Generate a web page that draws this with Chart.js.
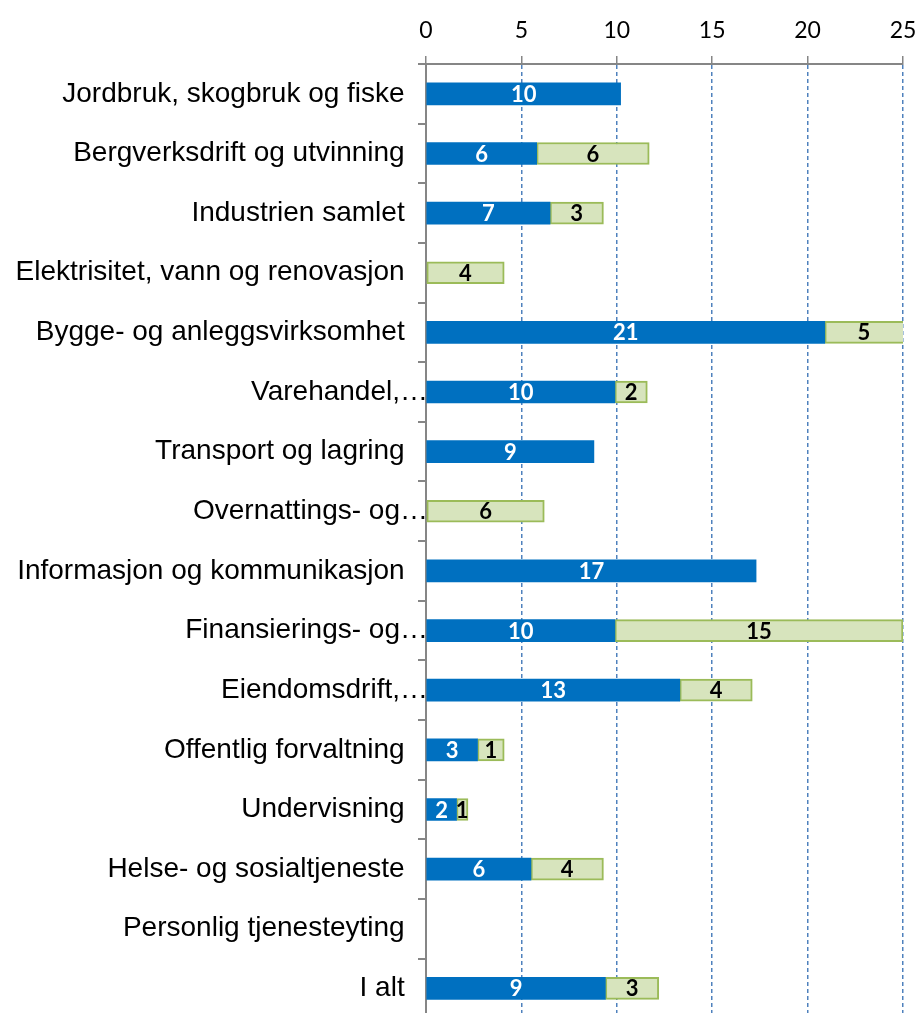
<!DOCTYPE html>
<html>
<head>
<meta charset="utf-8">
<script src="https://cdn.jsdelivr.net/npm/chart.js@4"></script>
<style>
    html, body { margin: 0; padding: 0; background: #fff; overflow: hidden; }
    #wrap { position: relative; width: 919px; height: 1025px; }
</style>
</head>
<body>
<div id="wrap"><canvas id="chart"></canvas></div>
<script>
// ==========================
// Data
// ==========================

const categories = [
    "Jordbruk, skogbruk og fiske",
    "Bergverksdrift og utvinning",
    "Industrien samlet",
    "Elektrisitet, vann og renovasjon",
    "Bygge- og anleggsvirksomhet",
    "Varehandel,…",
    "Transport og lagring",
    "Overnattings- og…",
    "Informasjon og kommunikasjon",
    "Finansierings- og…",
    "Eiendomsdrift,…",
    "Offentlig forvaltning",
    "Undervisning",
    "Helse- og sosialtjeneste",
    "Personlig tjenesteyting",
    "I alt"
];

const blueValues = [10.2, 5.8, 6.5, null, 20.9, 9.9, 8.8, null, 17.3, 9.9, 13.3, 2.7, 1.6, 5.5, null, 9.4];
const greenValues = [null, 5.9, 2.8, 4.1, 4.8, 1.7, null, 6.2, null, 15.1, 3.8, 1.4, 0.6, 3.8, null, 2.8];

const xTicks = [0, 5, 10, 15, 20, 25];

// ==========================
// Bar value labels
// ==========================

const barLabels = {
    id: "barLabels",
    afterDatasetsDraw(chart) {
        const ctx = chart.ctx;
        const area = chart.chartArea;
        ctx.save();
        ctx.font = "bold 22px Lato";
        ctx.textAlign = "center";
        ctx.textBaseline = "middle";
        chart.data.datasets.forEach((ds, i) => {
            const meta = chart.getDatasetMeta(i);
            meta.data.forEach((bar, j) => {
                const v = ds.data[j];
                if (v === null || v === undefined) return;
                const p = bar.getProps(["x", "y", "base"], true);
                const left = Math.max(Math.min(p.x, p.base), area.left);
                const right = Math.min(Math.max(p.x, p.base), area.right);
                ctx.fillStyle = i === 0 ? "#ffffff" : "#000000";
                ctx.fillText(String(Math.round(v)), (left + right) / 2, p.y + 1);
            });
        });
        ctx.restore();
    }
};

// ==========================
// Chart
// ==========================

Chart.defaults.font.family = "'Liberation Sans', Arial, sans-serif";
Chart.defaults.color = "#000";

new Chart(document.getElementById("chart"), {
    type: "bar",
    data: {
        labels: categories,
        datasets: [
            {
                label: "A",
                data: blueValues,
                backgroundColor: "#0070C0",
                borderWidth: 0,
                barThickness: 22
            },
            {
                label: "B",
                data: greenValues,
                backgroundColor: "#D7E4BD",
                borderColor: "#9BBB59",
                borderWidth: 2,
                borderSkipped: false,
                barThickness: 22
            }
        ]
    },
    options: {
        indexAxis: "y",
        responsive: true,
        maintainAspectRatio: false,
        animation: false,
        layout: { padding: { top: 0, right: 0, bottom: 0, left: 0 } },
        plugins: {
            legend: { display: false },
            tooltip: { enabled: false }
        },
        scales: {
            x: {
                position: "top",
                stacked: true,
                min: 0,
                max: 25,
                afterBuildTicks: scale => {
                    scale.ticks = xTicks.map(v => ({ value: v }));
                },
                afterFit: scale => {
                    scale.height = 64;
                    scale.paddingRight = 16;
                },
                ticks: {
                    font: { family: "Lato", size: 23 },
                    color: "#000",
                    padding: 12
                },
                grid: {
                    color: ctx => ctx.tick && ctx.tick.value === 0 ? "rgba(0,0,0,0)" : "#4F81BD",
                    lineWidth: 1.5,
                    tickColor: "#868686",
                    tickLength: 8,
                    tickBorderDash: []
                },
                border: { display: true, color: "#868686", width: 2, dash: [4, 3] }
            },
            y: {
                stacked: true,
                afterFit: scale => { scale.width = 426; },
                ticks: {
                    font: { size: 28 },
                    color: "#000",
                    padding: -10,
                    autoSkip: false,
                    callback: function (value) {
                        const lab = this.getLabelForValue(value);
                        return lab.endsWith("…") ? lab : lab + "   ";
                    }
                },
                grid: {
                    drawOnChartArea: false,
                    color: "#868686",
                    tickLength: 8,
                    lineWidth: 2
                },
                border: { display: true, color: "#868686", width: 2 }
            }
        }
    },
    plugins: [barLabels]
});
</script>
</body>
</html>
